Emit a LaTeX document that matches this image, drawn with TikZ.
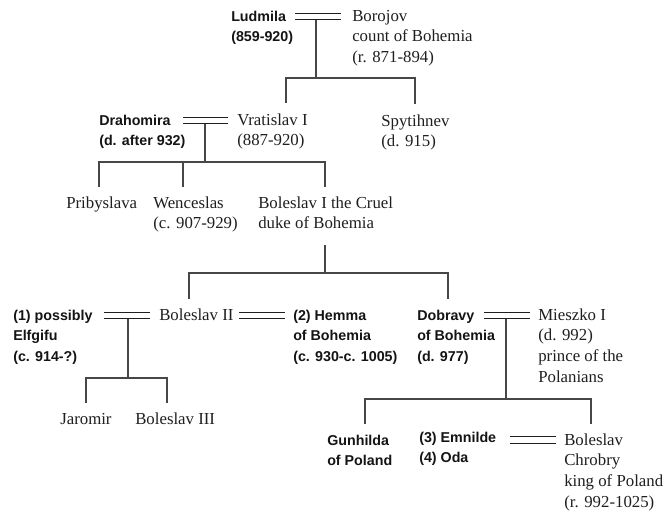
\documentclass[tikz,border=0pt]{standalone}
\usepackage{fontspec}
\setmainfont{Liberation Serif}
\newfontfamily\headfont{Liberation Sans}
\newcommand\stack[1]{\begin{tabular}[t]{@{}l@{}}#1\end{tabular}}
\tikzset{
  person/.style={anchor=base west, inner sep=0pt, text=black!88,
    font=\fontsize{12.6}{15.5}\selectfont},
  bride/.style={anchor=base west, inner sep=0pt, text=black!92,
    font=\headfont\bfseries\fontsize{10.7}{15.4}\selectfont},
  tree/.style={draw=black!72, line width=0.8pt},
  marriage/.style={draw=black!88, line width=0.9pt, double=white, double distance=4pt},
}
\begin{document}
\begin{tikzpicture}[x=0.75pt, y=-0.75pt]
\useasboundingbox[fill=white] (0,0) rectangle (668,512);

% ---------- people ----------
\node[bride]  (ludmila)   at (231,21)  {\stack{Ludmila\\(859-920)}};
\node[person] (borojov)   at (352,21)  {\stack{Borojov\\count of Bohemia\\(r. 871-894)}};

\node[bride]  (drahomira) at (99,125)  {\stack{Drahomira\\(d. after 932)}};
\node[person] (vratislav) at (237,125) {\stack{Vratislav I\\(887-920)}};
\node[person] (spytihnev) at (381,126) {\stack{Spytihnev\\(d. 915)}};

\node[person] (pribyslava) at (66,208)  {Pribyslava};
\node[person] (wenceslas)  at (153,208) {\stack{Wenceslas\\(c. 907-929)}};
\node[person] (boleslavI)  at (258,208) {\stack{Boleslav I the Cruel\\duke of Bohemia}};

\node[bride]  (elfgifu)    at (13,320)  {\stack{(1) possibly\\Elfgifu\\(c. 914-?)}};
\node[person] (boleslavII) at (159,320) {Boleslav II};
\node[bride]  (hemma)      at (293,320) {\stack{(2) Hemma\\of Bohemia\\(c. 930-c. 1005)}};
\node[bride]  (dobravy)    at (417,320) {\stack{Dobravy\\of Bohemia\\(d. 977)}};
\node[person] (mieszko)    at (538,320) {\stack{Mieszko I\\(d. 992)\\prince of the\\Polanians}};

\node[person] (jaromir)     at (60,424)  {Jaromir};
\node[person] (boleslavIII) at (135,424) {Boleslav III};

\node[bride]  (gunhilda) at (327,445) {\stack{Gunhilda\\of Poland}};
\node[bride]  (emnilde)  at (419,442) {\stack{(3) Emnilde\\(4) Oda}};
\node[person] (chrobry)  at (564,445) {\stack{Boleslav\\Chrobry\\king of Poland\\(r. 992-1025)}};

% ---------- junction points ----------
\coordinate (u1w) at (295,16.5);  \coordinate (u1e) at (341,16.5);  \coordinate (u1d) at (316,16.5);
\coordinate (u2w) at (183,120.5); \coordinate (u2e) at (228,120.5); \coordinate (u2d) at (205,120.5);
\coordinate (u3w) at (104,315.5); \coordinate (u3e) at (150,315.5); \coordinate (u3d) at (128,315.5);
\coordinate (u4w) at (239,315.5); \coordinate (u4e) at (285,315.5);
\coordinate (u5w) at (484,315.5); \coordinate (u5e) at (530,315.5); \coordinate (u5d) at (506,315.5);
\coordinate (u6w) at (510,440);   \coordinate (u6e) at (556,440);

\coordinate (h1) at (316,78);
\coordinate (t-vratislav) at (286,103);
\coordinate (t-spytihnev) at (415,104);

\coordinate (h2) at (205,162);
\coordinate (t-pribyslava) at (99,187);
\coordinate (t-wenceslas)  at (183,187);
\coordinate (t-boleslavI)  at (325,187);

\coordinate (b-boleslavI) at (325,245);
\coordinate (h3) at (325,273);
\coordinate (t-boleslavII) at (189,299);
\coordinate (t-dobravy)    at (448,299);

\coordinate (h4) at (128,378);
\coordinate (t-jaromir)     at (86,403);
\coordinate (t-boleslavIII) at (167,403);

\coordinate (h5) at (506,399);
\coordinate (t-gunhilda) at (365,424);
\coordinate (t-chrobry)  at (591,424);

% ---------- descent lines ----------
\draw[tree] (u1d) -- (h1);
\draw[tree] (t-vratislav) |- (h1) -| (t-spytihnev);

\draw[tree] (u2d) -- (h2);
\draw[tree] (t-pribyslava) |- (h2) -| (t-boleslavI);
\draw[tree] (t-wenceslas) -- (t-wenceslas |- h2);

\draw[tree] (b-boleslavI) -- (h3);
\draw[tree] (t-boleslavII) |- (h3) -| (t-dobravy);

\draw[tree] (u3d) -- (h4);
\draw[tree] (t-jaromir) |- (h4) -| (t-boleslavIII);

\draw[tree] (u5d) -- (h5);
\draw[tree] (t-gunhilda) |- (h5) -| (t-chrobry);

% ---------- marriages ----------
\draw[marriage] (u1w) -- (u1e);
\draw[marriage] (u2w) -- (u2e);
\draw[marriage] (u3w) -- (u3e);
\draw[marriage] (u4w) -- (u4e);
\draw[marriage] (u5w) -- (u5e);
\draw[marriage] (u6w) -- (u6e);
\end{tikzpicture}
\end{document}
